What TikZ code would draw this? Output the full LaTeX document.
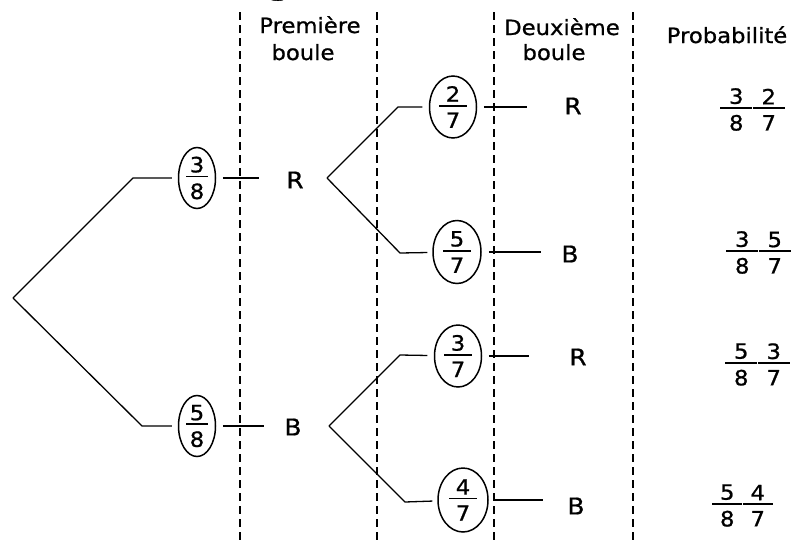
\documentclass[tikz,border=0pt]{standalone}
\usepackage{fontspec}
\setmainfont{DejaVu Sans}[FakeStretch=1.08, FakeBold=0.9]
\usetikzlibrary{shapes.geometric}
\newcommand\myfr[3]{\vbox{\offinterlineskip\halign{\hfil##\hfil\cr #2\cr\noalign{\kern3pt}\rule{#1}{1.8pt}\cr\noalign{\kern6pt}#3\cr}}}
\tikzset{
  tree/.style={line width=1.3pt},
  sep/.style={line width=2pt, dash pattern=on 8pt off 5pt},
  oval/.style={ellipse, draw, line width=1.5pt, inner sep=0pt, font=\fontsize{21}{21}\selectfont},
  letter/.style={inner sep=0pt, font=\fontsize{23}{23}\selectfont},
  head/.style={inner sep=0pt, anchor=base, font=\fontsize{21}{21}\selectfont},
  prob/.style={inner sep=0pt, font=\fontsize{21}{21}\selectfont}
}
\begin{document}
\begin{tikzpicture}[x=1pt, y=-1pt]
\useasboundingbox (0,0) rectangle (794,544);
% clipped title fragment
\node[inner sep=0pt, anchor=base, font=\fontsize{40}{40}\selectfont] (title) at (279,-7.5) {g};
% separators
\draw[sep] (240,12) -- (240,544);
\draw[sep] (377,12) -- (377,544);
\draw[sep] (494,12) -- (494,544);
\draw[sep] (633,12) -- (633,544);
% headers
\node[head] (h1a) at (310,33) {Première};
\node[head] (h1b) at (303,60) {boule};
\node[head] (h2a) at (562,35) {Deuxième};
\node[head] (h2b) at (554,60) {boule};
\node[head] (h3) at (727,43) {Probabilité};
% tree points
\coordinate (root) at (13,298);
\coordinate (c1) at (133,178);
\coordinate (c2) at (142,426);
\coordinate (f1) at (327,178);
\coordinate (f2) at (329,426);
\coordinate (c3) at (398,107);
\coordinate (c4) at (400,253);
\coordinate (c5) at (400,355);
\coordinate (c6) at (405,502);
% first level
\node[oval, minimum width=37pt, minimum height=61pt] (o38) at (197,178) {\myfr{22pt}{3}{8}};
\node[oval, minimum width=37pt, minimum height=61pt] (o58) at (197,426) {\myfr{22pt}{5}{8}};
\node[letter] (R1) at (295,180) {R};
\node[letter] (B1) at (293,427) {B};
% second level
\node[oval, minimum width=47pt, minimum height=62pt] (o27) at (453,107) {\myfr{28pt}{2}{7}};
\node[oval, minimum width=48pt, minimum height=63pt] (o57) at (457,252) {\myfr{28pt}{5}{7}};
\node[oval, minimum width=47pt, minimum height=62pt] (o37) at (458,356) {\myfr{28pt}{3}{7}};
\node[oval, minimum width=50pt, minimum height=64pt] (o47) at (463,500) {\myfr{28pt}{4}{7}};
\node[letter] (R2) at (573,106) {R};
\node[letter] (B2) at (570,254) {B};
\node[letter] (R3) at (578,357) {R};
\node[letter] (B3) at (576,506) {B};
% probabilities
\node[prob] (p1) at (752.5,109.5) {\myfr{32pt}{3}{8}\kern0.5pt\myfr{32pt}{2}{7}};
\node[prob] (p2) at (758.5,252.5) {\myfr{32pt}{3}{8}\kern0.5pt\myfr{32pt}{5}{7}};
\node[prob] (p3) at (757.5,364.5) {\myfr{32pt}{5}{8}\kern0.5pt\myfr{32pt}{3}{7}};
\node[prob] (p4) at (742.5,505.5) {\myfr{30pt}{5}{8}\kern0.5pt\myfr{30pt}{4}{7}};
% connectors
\draw[tree, shorten >=6pt] (root) -- (c1) -- (o38);
\draw[tree, shorten >=6pt] (root) -- (c2) -- (o58);
\draw[tree, shorten <=6.5pt, shorten >=27pt] (o38) -- (R1.west |- o38);
\draw[tree, shorten <=6.5pt, shorten >=20pt] (o58) -- (B1.west |- o58);
\draw[tree, shorten >=6.5pt] (f1) -- (c3) -- (o27);
\draw[tree, shorten >=5pt] (f1) -- (c4) -- (o57);
\draw[tree, shorten >=6.5pt] (f2) -- (c5) -- (o37);
\draw[tree, shorten >=5pt] (f2) -- (c6) -- (o47);
\draw[tree, shorten <=6.5pt, shorten >=37pt] (o27) -- (R2.west |- o27);
\draw[tree, shorten <=7pt, shorten >=20pt] (o57) -- (B2.west |- o57);
\draw[tree, shorten <=6.5pt, shorten >=40pt] (o37) -- (R3.west |- o37);
\draw[tree, shorten <=6pt, shorten >=24pt] (o47) -- (B3.west |- o47);
\end{tikzpicture}
\end{document}
